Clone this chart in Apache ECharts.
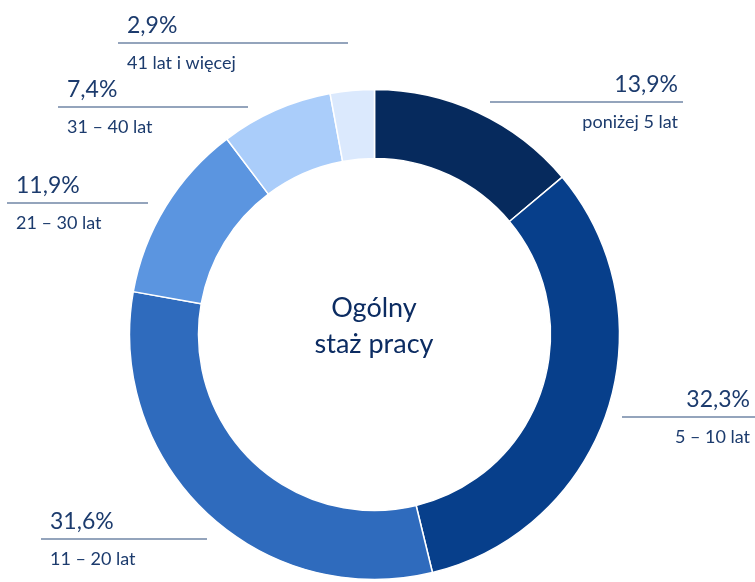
<!DOCTYPE html>
<html>
<head>
<meta charset="utf-8">
<script src="https://cdn.jsdelivr.net/npm/echarts@6/dist/echarts.min.js"></script>
<style>
  html, body { margin: 0; padding: 0; background: #fff; }
  #main { width: 755px; height: 582px; }
</style>
</head>
<body>
<div id="main"></div>
<script>
// dane wykresu
var categories = ['poniżej 5 lat', '5 – 10 lat', '11 – 20 lat', '21 – 30 lat', '31 – 40 lat', '41 lat i więcej'];
var values = [13.9, 32.3, 31.6, 11.9, 7.4, 2.9];
var colors = ['#062a5d', '#073f8b', '#2f6bbd', '#5b95e0', '#aacdfa', '#dbe9fd'];
var centerTitle = 'Ogólny\nstaż pracy';

// polozenie podpisow: linia [x1, x2, y], wyrownanie tekstu
var labelPos = [
    {line: [490, 683, 102], align: 'right'},
    {line: [622, 755, 417], align: 'right'},
    {line: [41, 207, 539], align: 'left'},
    {line: [7, 148, 203], align: 'left'},
    {line: [58, 248, 107], align: 'left'},
    {line: [118, 348, 43], align: 'left'}
];

var chart = echarts.init(document.getElementById('main'));

var fmt = function (v) {
    return v.toFixed(1).replace('.', ',') + '%';
};

var option = {
    animation: false,
    color: colors,
    graphic: [
        {
            type: 'text',
            x: 374,
            y: 326,
            style: {
                text: centerTitle,
                fill: '#0c2c62',
                font: '27px Lato',
                align: 'center',
                verticalAlign: 'middle',
                lineHeight: 36
            }
        }
    ],
    series: [
        {
            type: 'pie',
            center: [374.5, 334.5],
            radius: [176, 245],
            startAngle: 90,
            clockwise: true,
            avoidLabelOverlap: false,
            itemStyle: {
                borderColor: '#fff',
                borderWidth: 1.5
            },
            label: {
                show: true,
                position: 'outside',
                formatter: function (p) {
                    return '{p|' + fmt(values[p.dataIndex]) + '}\n{c|' + categories[p.dataIndex] + '}';
                },
                rich: {
                    p: {fontFamily: 'Lato', fontSize: 23, color: '#1c3b6d', lineHeight: 40},
                    c: {fontFamily: 'Lato', fontSize: 18, color: '#1c3b6d', lineHeight: 34}
                }
            },
            labelLine: {
                show: true,
                lineStyle: {color: '#7186a6', width: 1.5}
            },
            labelLayout: function (params) {
                var lp = labelPos[params.dataIndex];
                var l = lp.line;
                var x = lp.align === 'left' ? l[0] + 9 : l[1] - 5;
                return {
                    x: x,
                    y: l[2],
                    align: lp.align,
                    verticalAlign: 'middle',
                    labelLinePoints: [[l[0], l[2]], [(l[0] + l[1]) / 2, l[2]], [l[1], l[2]]]
                };
            },
            data: categories.map(function (c, i) {
                return {name: c, value: values[i]};
            })
        }
    ]
};

chart.setOption(option);
</script>
</body>
</html>
